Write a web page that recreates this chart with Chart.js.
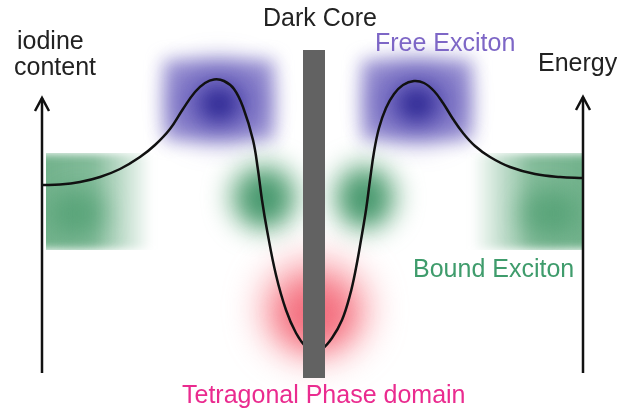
<!DOCTYPE html>
<html>
<head>
  <title>Dark Core Energy Diagram</title>
  <script src="https://cdn.jsdelivr.net/npm/chart.js"></script>
  <style>
    body {
      margin: 0;
      background: #fff;
      font-family: "Liberation Sans", Arial, sans-serif;
    }
    .chart-container {
      position: relative;
      width: 617px;
      height: 416px;
    }
  </style>
</head>
<body>
  <div class="chart-container">
    <canvas id="myChart"></canvas>
  </div>
  <script>
    // energy profile across the grain (x: position, y: drawn top-down)
    var curveX = [42, 60, 80, 100, 120, 140, 155, 170, 183, 195, 205, 214, 224, 234, 243, 253, 258, 262,
                  267, 276, 286, 296, 306, 314, 322, 332, 342, 350, 356, 361, 366, 370, 374, 379, 386,
                  394, 403, 414, 424, 434, 443, 453, 463, 475, 490, 510, 535, 560, 583];
    var curveY = [185, 184.5, 182, 177, 169, 157, 145, 129, 109, 92, 83, 79.5, 81, 89, 107, 140, 170, 200,
                  230, 275, 310, 333, 347, 351, 349, 338, 320, 295, 268, 240, 210, 180, 152, 128, 108,
                  94, 85, 81, 83, 91, 103, 119, 133, 146, 157, 167, 174, 177, 178];

    // axes and core
    var leftAxisX = [42, 42], leftAxisY = [373, 98];
    var rightAxisX = [583, 583], rightAxisY = [373, 97];
    var leftHeadX = [35, 42, 49], leftHeadY = [111, 98, 111];
    var rightHeadX = [576, 583, 590], rightHeadY = [110, 97, 110];
    var coreX = [314, 314], coreY = [50, 378];

    // exciton regions
    var blobNames = ['freeL', 'freeR', 'boundL', 'boundR', 'boundMidL', 'boundMidR', 'tetra'];
    var blobX0 = [156, 354, 46, 472, 222, 326, 248];
    var blobX1 = [282, 480, 152, 582, 306, 404, 382];
    var blobY0 = [52, 52, 153, 153, 154, 154, 244];
    var blobY1 = [148, 148, 250, 250, 240, 240, 374];

    var labels = ['iodine', 'content', 'Dark Core', 'Free Exciton', 'Energy', 'Bound Exciton', 'Tetragonal Phase domain'];
    var labelX = [17, 14, 263, 375, 538, 413, 182];
    var labelY = [49, 75, 26, 51, 71, 277, 403];
    var labelColors = ['#222', '#222', '#222', '#7d66c6', '#222', '#3f9c6c', '#ea2b8f'];

    function pts(xs, ys) {
      return xs.map(function (v, i) { return { x: v, y: ys[i] }; });
    }

    function glow(ctx, cx, cy, rx, ry, blur, color) {
      ctx.filter = 'blur(' + blur + 'px)';
      ctx.fillStyle = color;
      ctx.beginPath();
      ctx.ellipse(cx, cy, rx, ry, 0, 0, Math.PI * 2);
      ctx.fill();
    }

    const blobPlugin = {
      id: 'blobs',
      beforeDatasetsDraw(chart) {
        const ctx = chart.ctx;
        const sx = chart.scales.x, sy = chart.scales.y;
        blobNames.forEach(function (name, i) {
          const x0 = sx.getPixelForValue(blobX0[i]), x1 = sx.getPixelForValue(blobX1[i]);
          const y0 = sy.getPixelForValue(blobY0[i]), y1 = sy.getPixelForValue(blobY1[i]);
          const w = x1 - x0, h = y1 - y0, cx = x0 + w / 2, cy = y0 + h / 2;
          ctx.save();
          if (name === 'freeL' || name === 'freeR') {
            ctx.filter = 'blur(9px)';
            ctx.fillStyle = 'rgba(130,120,200,0.8)';
            ctx.fillRect(x0 + 8, y0 + 8, w - 16, h - 16);
            glow(ctx, cx, cy + 2, w * 0.34, h * 0.36, 16, 'rgba(80,70,175,0.7)');
            glow(ctx, cx, cy + 4, w * 0.14, h * 0.16, 10, 'rgba(35,30,140,0.85)');
          } else if (name === 'boundL' || name === 'boundR') {
            var left = name === 'boundL';
            ctx.beginPath();
            if (left) ctx.rect(x0, y0, w + 30, h);
            else ctx.rect(x0 - 30, y0, w + 30, h);
            ctx.clip();
            var g = left ? ctx.createLinearGradient(x0, 0, x1, 0) : ctx.createLinearGradient(x1, 0, x0, 0);
            g.addColorStop(0, 'rgba(90,165,120,0.85)');
            g.addColorStop(0.45, 'rgba(90,165,120,0.75)');
            g.addColorStop(1, 'rgba(90,165,120,0)');
            ctx.filter = 'blur(4px)';
            ctx.fillStyle = g;
            ctx.fillRect(left ? x0 - 10 : x0 - 10, y0 + 1, w + 20, h - 2);
            glow(ctx, left ? x0 + w * 0.3 : x1 - w * 0.3, cy + 12, w * 0.26, h * 0.26, 12,
                 'rgba(55,145,95,0.5)');
          } else if (name === 'tetra') {
            glow(ctx, cx, cy, w * 0.4, h * 0.38, 18, 'rgba(248,130,140,0.75)');
            glow(ctx, cx, cy + 6, w * 0.26, h * 0.24, 14, 'rgba(240,85,105,0.65)');
          } else {
            glow(ctx, cx, cy, w * 0.42, h * 0.4, 13, 'rgba(90,165,120,0.8)');
            glow(ctx, cx, cy + 2, w * 0.22, h * 0.24, 10, 'rgba(50,140,95,0.7)');
          }
          ctx.restore();
        });
      },
      afterDatasetsDraw(chart) {
        const ctx = chart.ctx;
        const sx = chart.scales.x, sy = chart.scales.y;
        ctx.save();
        ctx.font = '25px "Liberation Sans", Arial, sans-serif';
        ctx.textBaseline = 'alphabetic';
        ctx.textAlign = 'left';
        labels.forEach(function (t, i) {
          ctx.fillStyle = labelColors[i];
          ctx.fillText(t, sx.getPixelForValue(labelX[i]), sy.getPixelForValue(labelY[i]));
        });
        ctx.restore();
      }
    };

    const ctx = document.getElementById('myChart').getContext('2d');
    const chart = new Chart(ctx, {
      type: 'scatter',
      data: {
        datasets: [
          { label: 'core', data: pts(coreX, coreY), showLine: true, borderColor: '#626262',
            borderWidth: 22, borderCapStyle: 'butt', pointRadius: 0, order: 0 },
          { label: 'energy', data: pts(curveX, curveY), showLine: true, borderColor: '#111',
            borderWidth: 2.5, tension: 0.4, pointRadius: 0, order: 1 },
          { label: 'leftAxis', data: pts(leftAxisX, leftAxisY), showLine: true, borderColor: '#111',
            borderWidth: 2.5, pointRadius: 0, order: 2 },
          { label: 'rightAxis', data: pts(rightAxisX, rightAxisY), showLine: true, borderColor: '#111',
            borderWidth: 2.5, pointRadius: 0, order: 2 },
          { label: 'leftHead', data: pts(leftHeadX, leftHeadY), showLine: true, borderColor: '#111',
            borderWidth: 2.5, pointRadius: 0, order: 2 },
          { label: 'rightHead', data: pts(rightHeadX, rightHeadY), showLine: true, borderColor: '#111',
            borderWidth: 2.5, pointRadius: 0, order: 2 }
        ]
      },
      options: {
        responsive: true,
        maintainAspectRatio: false,
        animation: false,
        layout: { padding: 0 },
        plugins: { legend: { display: false }, tooltip: { enabled: false } },
        scales: {
          x: { type: 'linear', min: 0, max: 617, display: false },
          y: { type: 'linear', min: 0, max: 416, reverse: true, display: false }
        }
      },
      plugins: [blobPlugin]
    });
  </script>
</body>
</html>
